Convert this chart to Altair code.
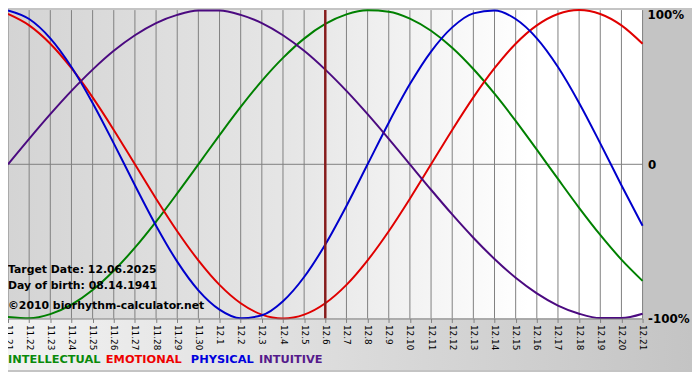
import altair as alt
import pandas as pd

dates = ["11.21", "11.22", "11.23", "11.24", "11.25", "11.26", "11.27", "11.28", "11.29", "11.30",
         "12.1", "12.2", "12.3", "12.4", "12.5", "12.6", "12.7", "12.8", "12.9", "12.10",
         "12.11", "12.12", "12.13", "12.14", "12.15", "12.16", "12.17", "12.18", "12.19", "12.20", "12.21"]

physical = [0.998, 0.942, 0.817, 0.631, 0.398, 0.136, -0.136, -0.398, -0.631, -0.817,
            -0.942, -0.998, -0.979, -0.888, -0.731, -0.520, -0.270, 0.0, 0.270, 0.520,
            0.731, 0.888, 0.979, 0.998, 0.942, 0.817, 0.631, 0.398, 0.136, -0.136, -0.398]
emotional = [0.975, 0.901, 0.782, 0.623, 0.434, 0.223, 0.0, -0.223, -0.434, -0.623,
             -0.782, -0.901, -0.975, -1.0, -0.975, -0.901, -0.782, -0.623, -0.434, -0.223,
             0.0, 0.223, 0.434, 0.623, 0.782, 0.901, 0.975, 1.0, 0.975, 0.901, 0.782]
intellectual = [-0.990, -0.999, -0.972, -0.910, -0.815, -0.690, -0.541, -0.372, -0.189, 0.0,
                0.189, 0.372, 0.541, 0.690, 0.815, 0.910, 0.972, 0.999, 0.990, 0.945,
                0.866, 0.756, 0.618, 0.458, 0.282, 0.095, -0.095, -0.282, -0.458, -0.618, -0.756]
intuitive = [0.0, 0.165, 0.325, 0.476, 0.614, 0.736, 0.837, 0.916, 0.969, 0.997,
             0.997, 0.969, 0.916, 0.837, 0.736, 0.614, 0.476, 0.325, 0.165, 0.0,
             -0.165, -0.325, -0.476, -0.614, -0.736, -0.837, -0.916, -0.969, -0.997, -0.997, -0.969]

series_names = ["INTELLECTUAL", "EMOTIONAL", "PHYSICAL", "INTUITIVE"]
series_colors = ["#008000", "#e00000", "#0000cc", "#4b0a80"]
legend_colors = ["#0a8a0a", "#ee0000", "#0000dd", "#551a8b"]
target_date = "12.6"
info_lines = ["Target Date: 12.06.2025", "Day of birth: 08.14.1941", "\u00a92010 biorhythm-calculator.net"]
y_ticks = [0, -1]
top_label = "100%"

W, H = 642, 312

rows = []
for name, vals in zip(series_names, [intellectual, emotional, physical, intuitive]):
    for d, v in zip(dates, vals):
        rows.append({"date": d, "series": name, "value": v})
df = pd.DataFrame(rows)
dates_df = pd.DataFrame({"date": dates})
one = alt.Data(values=[{"a": 1}])

xenc = alt.X("date:O", sort=dates, scale=alt.Scale(type="point", padding=0),
             axis=alt.Axis(title=None, labelAngle=90, labelFont="DejaVu Sans", labelFontSize=9,
                           labelColor="#000000", tickColor="#808080", tickSize=4,
                           domainColor="#808080", labelPadding=2, grid=False, zindex=1))
yscale = alt.Scale(domain=[-1, 1], nice=False, zero=False)

plot_bg = alt.Chart(one).mark_rect(
    color=alt.Gradient(gradient="linear", x1=0, x2=1, y1=0, y2=0,
                       stops=[alt.GradientStop(color="#d4d4d4", offset=0),
                              alt.GradientStop(color="#e6e6e6", offset=0.45),
                              alt.GradientStop(color="#ffffff", offset=0.82),
                              alt.GradientStop(color="#ffffff", offset=1)])
).encode(x=alt.value(0), x2=alt.value(W), y=alt.value(0), y2=alt.value(H))

bottom_bg = alt.Chart(one).mark_rect(
    color=alt.Gradient(gradient="linear", x1=0, x2=1, y1=0, y2=0,
                       stops=[alt.GradientStop(color="#f2f2f2", offset=0),
                              alt.GradientStop(color="#c4c4c4", offset=1)])
).encode(x=alt.value(0), x2=alt.value(692), y=alt.value(H), y2=alt.value(364))

grid = alt.Chart(dates_df).mark_rule(color="#808080", strokeWidth=1).encode(x=xenc)

zero_line = alt.Chart(one).mark_rule(color="#808080", strokeWidth=1).encode(
    y=alt.datum(0, scale=yscale))

lines = alt.Chart(df).mark_line(strokeWidth=2, interpolate="monotone").encode(
    x=xenc,
    y=alt.Y("value:Q", scale=yscale,
            axis=alt.Axis(orient="right", title=None, values=y_ticks, domain=False, ticks=False,
                          grid=False, labelFont="DejaVu Sans", labelFontSize=12,
                          labelFontWeight="bold", labelColor="#000000", labelPadding=5,
                          labelAlign="left", zindex=1,
                          labelExpr="datum.value == 0 ? '0' : '-100%'")),
    color=alt.Color("series:N", scale=alt.Scale(domain=series_names, range=series_colors), legend=None),
    detail="series:N",
)

top_text = alt.Chart(one).mark_text(
    align="left", baseline="top", font="DejaVu Sans", fontSize=12, fontWeight="bold",
    color="#000000").encode(x=alt.value(W + 5), y=alt.datum(1, scale=yscale), text=alt.value(top_label))

target = alt.Chart(pd.DataFrame({"date": [target_date]})).mark_rule(
    color="#861c1c", strokeWidth=2.5).encode(x=xenc)

layers = [plot_bg, bottom_bg, grid, zero_line, lines, target, top_text]

info_y = [263, 279, 299]
for t, yy in zip(info_lines, info_y):
    layers.append(alt.Chart(one).mark_text(
        align="left", baseline="middle", font="DejaVu Sans", fontSize=11, fontWeight="bold",
        color="#000000").encode(x=alt.value(0), y=alt.value(yy), text=alt.value(t)))

legend_x = [0, 99, 185, 254]
for name, col, xx in zip(series_names, legend_colors, legend_x):
    layers.append(alt.Chart(one).mark_text(
        align="left", baseline="middle", font="DejaVu Sans", fontSize=11.5, fontWeight="bold",
        color=col).encode(x=alt.value(xx), y=alt.value(354), text=alt.value(name)))

chart = alt.layer(*layers).properties(
    width=W, height=H,
    autosize=alt.AutoSizeParams(type="none"),
    padding={"left": 0, "top": 0, "right": 50, "bottom": 52},
    background="#c4c4c4",
).configure_view(stroke=None)

chart.save("out.html", embed_options={"renderer": "svg", "actions": False})
